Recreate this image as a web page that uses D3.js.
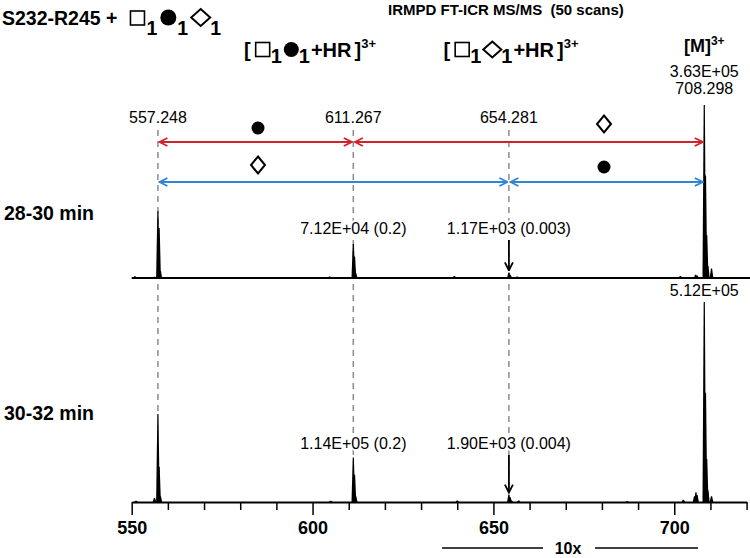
<!DOCTYPE html>
<html>
<head>
<meta charset="utf-8">
<script src="https://cdnjs.cloudflare.com/ajax/libs/d3/7.8.5/d3.min.js"></script>
<style>
  body { margin: 0; background: #fff; }
  text { font-family: "Liberation Sans", Arial, sans-serif; fill: #000; }
</style>
</head>
<body>
<div id="chart"></div>
<script>
// spectra (m/z, counts)
const mzTop  = [550.9, 556.3, 557.248, 557.58, 557.92, 604.7, 611.267, 611.6, 611.93, 639.2, 654.281, 654.61, 654.95, 656.6, 686.7, 701.7, 705.9, 706.3, 708.298, 708.63, 708.97, 709.3, 710.3];
const intTop = [3500, 2500, 140000, 105000, 15000, 3000, 71200, 45000, 10000, 400, 1170, 700, 250, 300, 150, 400, 700, 500, 363000, 215000, 90000, 25000, 20000];
const mzBot  = [551.2, 556.3, 557.248, 557.58, 557.92, 605.0, 611.267, 611.6, 611.93, 640.0, 654.281, 654.61, 654.95, 657.0, 687.0, 702.5, 705.6, 706.0, 706.3, 708.298, 708.63, 708.97, 709.3, 710.3];
const intBot = [3500, 10000, 225000, 90000, 15000, 3500, 114000, 70000, 15000, 400, 1900, 1200, 400, 400, 200, 600, 1500, 2500, 1800, 512000, 280000, 110000, 30000, 15000];
const maxTop = 363000, maxBot = 512000;

// 10x magnified window
const zoomWin = [636, 707];
const zoomFactor = 10;

// fragment annotations
const fragMz = [557.248, 611.267, 654.281];
const precursorMz = 708.298;
const fragText = ["557.248", "611.267", "654.281"];
const topLabels = ["7.12E+04 (0.2)", "1.17E+03 (0.003)"];
const botLabels = ["1.14E+05 (0.2)", "1.90E+03 (0.004)"];
const tickVals = d3.range(550, 721, 10);
const tickLabels = [550, 600, 650, 700];

const width = 750, height = 558;
const svg = d3.select("#chart").append("svg")
  .attr("width", width).attr("height", height);

const defs = svg.append("defs");
function marker(id, color) {
  defs.append("marker").attr("id", id)
    .attr("viewBox", "0 0 10 10").attr("refX", 9).attr("refY", 5)
    .attr("markerWidth", 10).attr("markerHeight", 10)
    .attr("markerUnits", "userSpaceOnUse")
    .attr("orient", "auto-start-reverse")
    .append("path").attr("d", "M1,1 L9,5 L1,9")
    .attr("fill", "none").attr("stroke", color).attr("stroke-width", 1.8);
}
marker("redHead", "#d1232a");
marker("blueHead", "#2e86d6");
marker("blackHead", "#000");

const x = d3.scaleLinear().domain([550, 720]).range([131.7, 746.6]);
const yTop = d3.scaleLinear().domain([0, maxTop]).range([278, 105]);
const yBot = d3.scaleLinear().domain([0, maxBot]).range([502, 302]);

const inZoom = mz => mz >= zoomWin[0] && mz <= zoomWin[1];

// dashed guide lines
const dashEnd = [412, 455, 489];
fragMz.forEach((mz, i) => {
  svg.append("line")
    .attr("x1", x(mz)).attr("x2", x(mz))
    .attr("y1", 130).attr("y2", dashEnd[i])
    .attr("stroke", "#8c8c8c").attr("stroke-width", 1.5)
    .attr("stroke-dasharray", "6,5");
});

// peaks
function drawPeaks(mzs, vals, y) {
  const y0 = y(0);
  mzs.forEach((mz, i) => {
    const v = vals[i] * (inZoom(mz) ? zoomFactor : 1);
    const cx = x(mz), top = y(v);
    svg.append("path")
      .attr("d", `M${cx - 1.8},${y0} L${cx - 0.6},${top} L${cx + 0.6},${top} L${cx + 1.8},${y0} Z`)
      .attr("fill", "#000");
  });
}
drawPeaks(mzTop, intTop, yTop);
drawPeaks(mzBot, intBot, yBot);

// top baseline
svg.append("line")
  .attr("x1", x(550)).attr("x2", width)
  .attr("y1", yTop(0)).attr("y2", yTop(0))
  .attr("stroke", "#000").attr("stroke-width", 2);

// bottom axis
const axis = svg.append("g")
  .attr("transform", `translate(0,${yBot(0)})`)
  .call(d3.axisBottom(x).tickValues(tickVals).tickSize(8).tickSizeOuter(0)
    .tickFormat(d => tickLabels.includes(d) ? d : ""));
axis.select(".domain").attr("stroke-width", 2);
axis.selectAll(".tick line").attr("stroke-width", 1.5)
  .attr("y2", d => tickLabels.includes(d) ? 13 : 8);
axis.selectAll(".tick text")
  .attr("y", 19).attr("dy", "0.71em")
  .attr("font-size", 18).attr("font-weight", "bold")
  .attr("font-family", "Liberation Sans, Arial, sans-serif");

// 10x bar
svg.append("text").attr("x", 568).attr("y", 554)
  .attr("text-anchor", "middle").attr("font-size", 16).attr("font-weight", "bold").text("10x");
svg.append("line").attr("x1", 442).attr("x2", 543).attr("y1", 548).attr("y2", 548)
  .attr("stroke", "#000").attr("stroke-width", 1.3);
svg.append("line").attr("x1", 595).attr("x2", 698).attr("y1", 548).attr("y2", 548)
  .attr("stroke", "#000").attr("stroke-width", 1.3);

// text with white halo
function label(xp, yp, txt, size, halo) {
  const t = svg.append("text").attr("x", xp).attr("y", yp)
    .attr("text-anchor", "middle").attr("font-size", size)
    .text(txt);
  if (halo !== false) {
    t.attr("stroke", "#fff").attr("stroke-width", 4).attr("paint-order", "stroke");
  }
  return t;
}

fragMz.forEach((mz, i) => label(x(mz), 123, fragText[i], 16));
label(x(precursorMz), 77, "3.63E+05", 16);
label(x(precursorMz), 94, "708.298", 16);
label(x(fragMz[1]), 234, topLabels[0], 16);
label(x(fragMz[2]), 234, topLabels[1], 16);
label(x(fragMz[1]), 449, botLabels[0], 16);
label(x(fragMz[2]), 449, botLabels[1], 16);
label(x(precursorMz), 296, "5.12E+05", 16, false);

// arrows at the weak 654 peak
[[240, yTop(intTop[10] * zoomFactor) - 2], [455, yBot(intBot[10] * zoomFactor) - 2]].forEach(([a, b]) => {
  svg.append("line").attr("x1", x(fragMz[2])).attr("x2", x(fragMz[2]))
    .attr("y1", a).attr("y2", b)
    .attr("stroke", "#000").attr("stroke-width", 1.8)
    .attr("marker-end", "url(#blackHead)");
});

// double-headed distance arrows
function span(m1, m2, yy, color, id) {
  svg.append("line")
    .attr("x1", x(m1) + 1.5).attr("x2", x(m2) - 1.5)
    .attr("y1", yy).attr("y2", yy)
    .attr("stroke", color).attr("stroke-width", 1.8)
    .attr("marker-start", `url(#${id})`).attr("marker-end", `url(#${id})`);
}
span(fragMz[0], fragMz[1], 142, "#d1232a", "redHead");
span(fragMz[1], precursorMz, 142, "#d1232a", "redHead");
span(fragMz[0], fragMz[2], 182, "#2e86d6", "blueHead");
span(fragMz[2], precursorMz, 182, "#2e86d6", "blueHead");

// glycan symbols
function circle(g, cx, cy, r) {
  g.append("circle").attr("cx", cx).attr("cy", cy).attr("r", r).attr("fill", "#000");
}
function diamond(g, cx, cy, w, h) {
  g.append("path")
    .attr("d", `M${cx},${cy - h} L${cx + w},${cy} L${cx},${cy + h} L${cx - w},${cy} Z`)
    .attr("fill", "#fff").attr("stroke", "#000").attr("stroke-width", 2);
}
function square(g, cx, cy, s) {
  g.append("rect").attr("x", cx - s / 2).attr("y", cy - s / 2).attr("width", s).attr("height", s)
    .attr("fill", "none").attr("stroke", "#000").attr("stroke-width", 1.6);
}
circle(svg, 258, 128, 6.5);
diamond(svg, 604, 124, 7, 8.5);
diamond(svg, 258, 165, 7, 8.5);
circle(svg, 604, 167, 6.5);

// rich text: text pieces + symbols laid out left to right
function rich(xp, yp, parts, anchor) {
  const g = svg.append("g");
  let cx = 0;
  parts.forEach(p => {
    if (p.text !== undefined) {
      const t = g.append("text").attr("x", cx).attr("y", p.dy || 0)
        .attr("font-size", p.size).attr("font-weight", "bold")
        .attr("xml:space", "preserve").text(p.text);
      cx += t.node().getComputedTextLength() + (p.gap || 0);
    } else {
      const w = p.w;
      if (p.shape === "square") square(g, cx + w / 2, p.cy, w - 2);
      if (p.shape === "circle") circle(g, cx + w / 2, p.cy, w / 2);
      if (p.shape === "diamond") diamond(g, cx + w / 2, p.cy, w / 2, p.h);
      cx += w + (p.gap || 0);
    }
  });
  const off = anchor === "middle" ? -cx / 2 : 0;
  g.attr("transform", `translate(${xp + off},${yp})`);
}

rich(2, 25, [
  {text: "S232-R245 +", size: 19.5, gap: 12},
  {shape: "square", w: 16, cy: -7, gap: 1},
  {text: "1", size: 19.5, dy: 10, gap: 3},
  {shape: "circle", w: 16, cy: -7.5, gap: 1},
  {text: "1", size: 19.5, dy: 10, gap: 3},
  {shape: "diamond", w: 19, h: 8.5, cy: -7.5},
  {text: "1", size: 19.5, dy: 10}
]);

function fragHeader(xc, sym) {
  rich(xc, 57, [
    {text: "[", size: 20, gap: 4},
    {shape: "square", w: 16, cy: -7.5},
    {text: "1", size: 20, dy: 6, gap: 2},
    sym === "circle" ? {shape: "circle", w: 15, cy: -7.5} : {shape: "diamond", w: 18, h: 8, cy: -7.5},
    {text: "1", size: 20, dy: 6, gap: 1},
    {text: "+HR", size: 20, gap: 3},
    {text: "]", size: 20},
    {text: "3+", size: 13, dy: -9}
  ], "middle");
}
fragHeader(310, "circle");
fragHeader(511, "diamond");

rich(x(precursorMz), 52, [
  {text: "[M]", size: 18},
  {text: "3+", size: 12, dy: -7}
], "middle");

svg.append("text").attr("x", 388).attr("y", 15)
  .attr("font-size", 15).attr("font-weight", "bold")
  .attr("xml:space", "preserve")
  .text("IRMPD FT-ICR MS/MS  (50 scans)");

svg.append("text").attr("x", 4).attr("y", 220)
  .attr("font-size", 19.5).attr("font-weight", "bold").text("28-30 min");
svg.append("text").attr("x", 4).attr("y", 420)
  .attr("font-size", 19.5).attr("font-weight", "bold").text("30-32 min");
</script>
</body>
</html>
